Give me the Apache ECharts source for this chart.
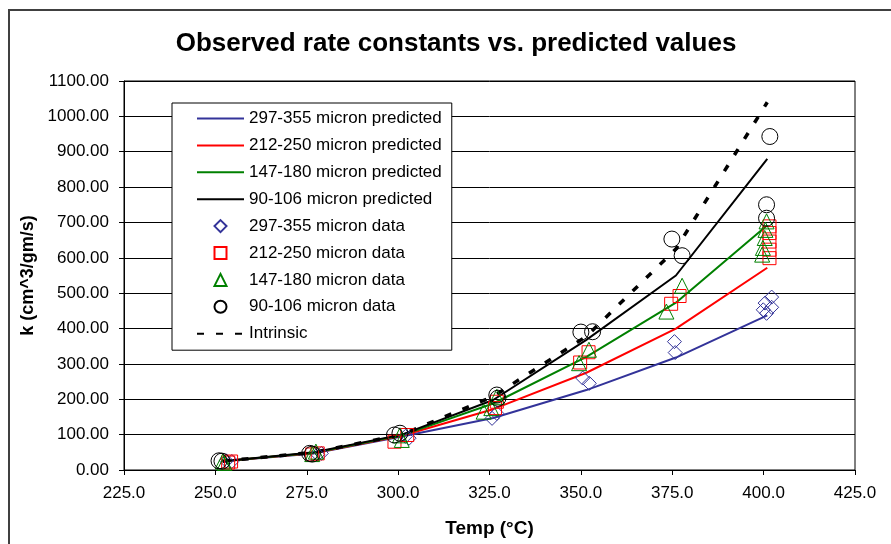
<!DOCTYPE html>
<html>
<head>
<meta charset="utf-8">
<script src="https://cdn.jsdelivr.net/npm/echarts@6/dist/echarts.min.js"></script>
<style>html,body{margin:0;padding:0;background:#fff}#c{width:891px;height:544px}</style>
</head>
<body>
<div id="c"></div>
<script>
// ---- data ----
const xTicks = [225, 250, 275, 300, 325, 350, 375, 400, 425];
const yTicks = [0, 100, 200, 300, 400, 500, 600, 700, 800, 900, 1000, 1100];
const predTemps = [252, 277, 301, 326, 351.5, 376, 401];
const pred297 = [25, 47, 95, 147, 226, 318, 437];
const pred212 = [25, 48, 97, 172, 275, 400, 572];
const pred147 = [25, 49, 98, 188, 320, 473, 692];
const pred90  = [25, 50, 100, 198, 368, 550, 880];
const intrinsic = [25, 50, 100, 208, 378, 625, 1040];

const data297T = [254.5, 253, 279, 278, 303, 302, 325.7, 327, 350.5, 352.3, 375.6, 375.8, 402.2, 400.4, 399.9, 400.8, 402.2];
const data297K = [24, 26, 47, 44, 90, 95, 146, 160, 260, 245, 363, 332, 489, 472, 453, 443, 460];
const data212T = [254.3, 253.5, 276.5, 278, 299, 302.5, 327, 326.5, 349.8, 352.1, 374.7, 377, 401.6, 401.6, 401.6, 401.6, 401.6];
const data212K = [24, 21, 44, 47, 80, 99, 193, 175, 304, 333, 470, 492, 689, 670, 646, 623, 599];
const data147T = [252, 252.5, 277.5, 276.5, 301, 300.5, 323.4, 325.5, 327, 349.5, 352.2, 373.4, 377.7, 400.8, 400.5, 400.3, 399.8, 399.6];
const data147K = [24, 20, 52, 45, 85, 98, 165, 175, 207, 302, 340, 448, 521, 703, 679, 656, 628, 609];
const data90T  = [251, 251.8, 275.8, 276.5, 300.5, 299, 327, 327.3, 350, 353.2, 374.9, 377.7, 400.8, 400.8, 401.7];
const data90K  = [26, 25, 47, 45, 104, 99, 212, 203, 390, 391, 653, 606, 750, 712, 943];

const names = ['297-355 micron predicted', '212-250 micron predicted', '147-180 micron predicted', '90-106 micron predicted',
  '297-355 micron data', '212-250 micron data', '147-180 micron data', '90-106 micron data', 'Intrinsic'];
const colors = ['#333399', '#ff0000', '#008000', '#000000'];

const zip = (a, b) => a.map((v, i) => [v, b[i]]);
const FONT = "'Liberation Sans', Arial, sans-serif";

const ICONS = {
  diamond: 'path://M0,-1L1,0L0,1L-1,0Z',
  rect: 'path://M-1,-1L1,-1L1,1L-1,1Z',
  triangle: 'path://M0,-1L1,1L-1,1Z',
  circle: 'path://M1,0A1,1,0,1,1,-1,0A1,1,0,1,1,1,0Z'
};

const chart = echarts.init(document.getElementById('c'));

function lineSeries(name, vals, color, extra) {
  return Object.assign({
    name, type: 'line', data: zip(predTemps, vals), symbol: 'none', smooth: false,
    lineStyle: { color, width: 2 }, itemStyle: { color }, z: 2
  }, extra || {});
}
function scatterSeries(name, t, k, color, symbol, size) {
  return {
    name, type: 'scatter', data: zip(t, k), symbol, symbolSize: size,
    itemStyle: { color: 'rgba(0,0,0,0)', borderColor: color, borderWidth: 1, opacity: 1 }, z: 3
  };
}

const legendData = [
  { name: names[0], itemStyle: { opacity: 0 } },
  { name: names[1], itemStyle: { opacity: 0 } },
  { name: names[2], itemStyle: { opacity: 0 } },
  { name: names[3], itemStyle: { opacity: 0 } },
  { name: names[4], icon: ICONS.diamond },
  { name: names[5], icon: ICONS.rect },
  { name: names[6], icon: ICONS.triangle },
  { name: names[7], icon: ICONS.circle },
  { name: names[8], itemStyle: { opacity: 0 } }
];

chart.setOption({
  animation: false,
  backgroundColor: '#fff',
  textStyle: { fontFamily: FONT },
  grid: { left: 124, top: 81, width: 731, height: 389, show: true, borderColor: '#000', borderWidth: 1, backgroundColor: 'transparent' },
  xAxis: {
    type: 'value', min: xTicks[0], max: xTicks[xTicks.length - 1], interval: 25,
    name: 'Temp (°C)', nameLocation: 'middle', nameGap: 49,
    nameTextStyle: { fontFamily: FONT, fontSize: 19, fontWeight: 'bold', color: '#000' },
    axisLine: { lineStyle: { color: '#000', width: 1 } },
    axisTick: { show: true, inside: false, length: 5, lineStyle: { color: '#000' } },
    axisLabel: { fontFamily: FONT, fontSize: 17, color: '#000', margin: 15, formatter: v => v.toFixed(1) },
    splitLine: { show: false }
  },
  yAxis: {
    type: 'value', min: yTicks[0], max: yTicks[yTicks.length - 1], interval: 100,
    name: 'k (cm^3/gm/s)', nameLocation: 'middle', nameGap: 86, nameRotate: 90,
    nameTextStyle: { fontFamily: FONT, fontSize: 18, fontWeight: 'bold', color: '#000' },
    axisLine: { show: true, lineStyle: { color: '#000', width: 1 } },
    axisTick: { show: true, inside: false, length: 5, lineStyle: { color: '#000' } },
    axisLabel: { fontFamily: FONT, fontSize: 17, color: '#000', margin: 15, formatter: v => v.toFixed(2) },
    splitLine: { show: true, lineStyle: { color: '#000', width: 1 } }
  },
  legend: {
    orient: 'vertical', left: 172, top: 103,
    padding: [7, 10, 8, 24], itemGap: 9.9, itemWidth: 47, itemHeight: 12,
    backgroundColor: '#fff', borderColor: '#000', borderWidth: 1,
    symbolKeepAspect: true,
    textStyle: { fontFamily: FONT, fontSize: 17, color: '#000', lineHeight: 17 },
    data: legendData
  },
  graphic: [
    { type: 'rect', shape: { x: 9, y: 10, width: 900, height: 600 }, style: { fill: 'none', stroke: '#404040', lineWidth: 2 }, silent: true, z: 0 },
    { type: 'text', x: 456, y: 44, style: { text: 'Observed rate constants vs. predicted values', font: 'bold 26px ' + FONT, fill: '#000', textAlign: 'center', textVerticalAlign: 'middle' }, z: 10 }
  ],
  series: [
    lineSeries(names[0], pred297, colors[0]),
    lineSeries(names[1], pred212, colors[1]),
    lineSeries(names[2], pred147, colors[2]),
    lineSeries(names[3], pred90, colors[3]),
    scatterSeries(names[4], data297T, data297K, colors[0], 'diamond', 14),
    scatterSeries(names[5], data212T, data212K, colors[1], 'rect', 13),
    scatterSeries(names[6], data147T, data147K, colors[2], 'triangle', 15),
    scatterSeries(names[7], data90T, data90K, colors[3], 'circle', 16),
    lineSeries(names[8], intrinsic, '#000', { lineStyle: { color: '#000', width: 3.5, type: [7, 12], cap: 'butt' } })
  ]
});
</script>
</body>
</html>
